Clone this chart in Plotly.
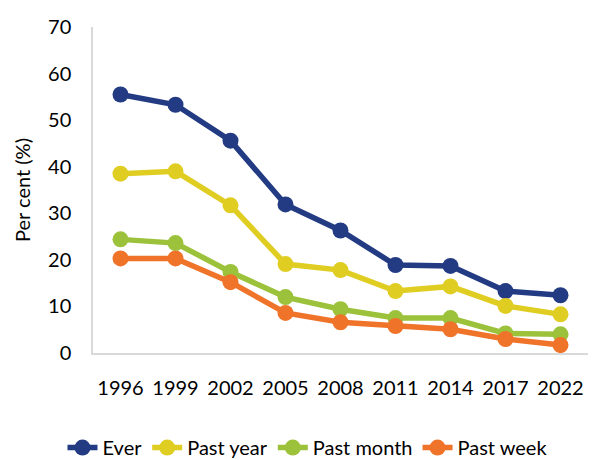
import plotly.graph_objects as go

years = ["1996", "1999", "2002", "2005", "2008", "2011", "2014", "2017", "2022"]
ever = [55.5, 53.3, 45.6, 31.9, 26.3, 18.9, 18.7, 13.3, 12.4]
past_year = [38.5, 39.0, 31.7, 19.1, 17.8, 13.3, 14.3, 10.1, 8.3]
past_month = [24.4, 23.6, 17.4, 12.0, 9.4, 7.5, 7.5, 4.2, 4.0]
past_week = [20.3, 20.3, 15.2, 8.6, 6.6, 5.8, 5.1, 3.0, 1.7]

series = [
    ("Ever", ever, "#233B82"),
    ("Past year", past_year, "#E0CD22"),
    ("Past month", past_month, "#9BC23A"),
    ("Past week", past_week, "#F0732A"),
]

fig = go.Figure()
for name, vals, col in series:
    fig.add_trace(go.Scatter(
        x=years, y=vals, name=name, mode="lines+markers",
        line=dict(color=col, width=5.5),
        marker=dict(color=col, size=16),
    ))

font = "Lato, 'Open Sans', sans-serif"
fig.update_layout(
    width=599, height=452,
    margin=dict(l=85, r=19, t=19, b=107, autoexpand=False),
    plot_bgcolor="white", paper_bgcolor="white",
    font=dict(family=font, size=20, color="#000000"),
    showlegend=True,
    legend=dict(orientation="h", xref="container", yref="paper",
                x=0.5, xanchor="center", y=-0.29, yanchor="middle",
                font=dict(size=20), itemwidth=30, tracegroupgap=0),
    xaxis=dict(type="category", range=[-0.5, 8.5], showgrid=False,
               showline=True, linecolor="#D9D9D9", linewidth=1.5,
               ticks="", tickfont=dict(size=20), ticklabelstandoff=16),
    yaxis=dict(range=[0, 70], dtick=10, showgrid=False, zeroline=False,
               showline=True, linecolor="#D9D9D9", linewidth=1.5,
               ticks="", tickfont=dict(size=20), ticklabelstandoff=16,
               title=dict(text="Per cent (%)", font=dict(size=20), standoff=12)),
)

fig.write_html("out.html")
